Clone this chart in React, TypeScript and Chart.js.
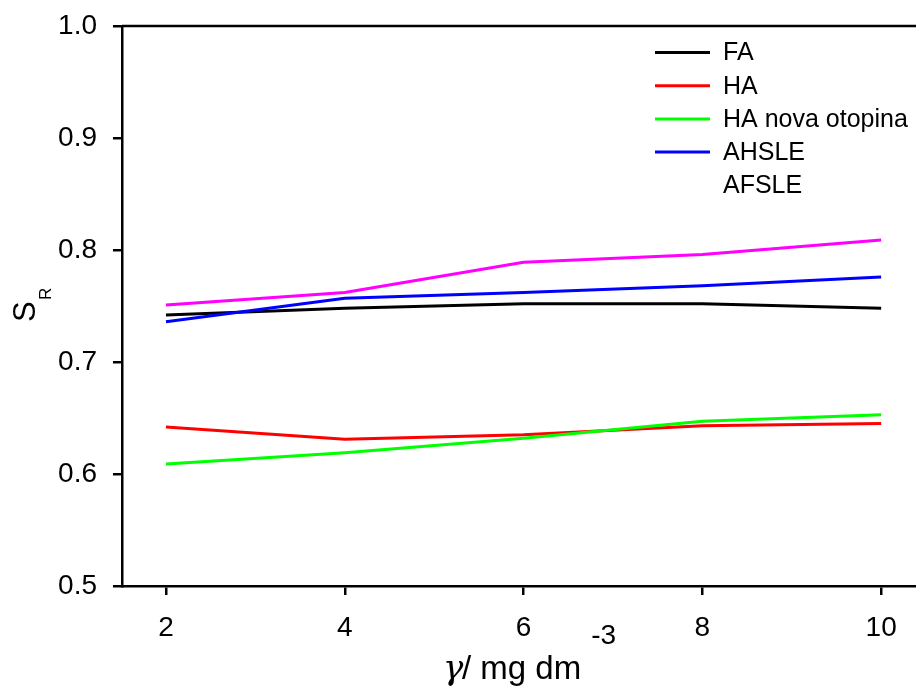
import React, { useEffect, useRef } from "react";
import { Chart, registerables } from "chart.js";

Chart.register(...registerables);

const xValues = [2, 4, 6, 8, 10];
const xTicks = [2, 4, 6, 8, 10];
const yTicks = [0.5, 0.6, 0.7, 0.8, 0.9, 1.0];

const seriesNames = ["FA", "HA", "HA nova otopina", "AHSLE", "AFSLE"];
const faValues = [0.742, 0.748, 0.752, 0.752, 0.748];
const haValues = [0.642, 0.631, 0.635, 0.643, 0.645];
const haNovaValues = [0.609, 0.619, 0.632, 0.647, 0.653];
const ahsleValues = [0.736, 0.757, 0.762, 0.768, 0.776];
const afsleValues = [0.751, 0.762, 0.789, 0.796, 0.809];
const seriesColors = ["#000000", "#ff0000", "#00ff00", "#0000ff", "#ff00ff"];
const legendShowLine = [true, true, true, true, false];

const SANS = "'Liberation Sans', Arial, sans-serif";

const overlayPlugin = {
  id: "overlay",
  afterDraw(chart: any) {
    const ctx = chart.ctx;
    const area = chart.chartArea;
    ctx.save();
    // top frame line
    ctx.strokeStyle = "#000";
    ctx.lineWidth = 2.5;
    ctx.beginPath();
    ctx.moveTo(area.left, area.top);
    ctx.lineTo(chart.width, area.top);
    ctx.stroke();

    // legend
    const lx0 = 655, lx1 = 710, tx = 723, ly0 = 52.5, lstep = 33.2;
    ctx.font = `25px ${SANS}`;
    ctx.textBaseline = "middle";
    ctx.textAlign = "left";
    seriesNames.forEach((name, i) => {
      const y = ly0 + i * lstep;
      if (legendShowLine[i]) {
        ctx.strokeStyle = seriesColors[i];
        ctx.lineWidth = 3;
        ctx.beginPath();
        ctx.moveTo(lx0, y);
        ctx.lineTo(lx1, y);
        ctx.stroke();
      }
      ctx.fillStyle = "#000";
      ctx.fillText(name, tx, y + 1);
    });

    // x title
    ctx.textBaseline = "alphabetic";
    ctx.fillStyle = "#000";
    ctx.font = `italic 34px 'DejaVu Serif', 'Liberation Serif', serif`;
    ctx.fillText("\u03b3", 443, 679);
    ctx.font = `33px ${SANS}`;
    ctx.fillText("/ mg dm", 462, 679);
    const w = ctx.measureText("/ mg dm").width;
    ctx.font = `28px ${SANS}`;
    ctx.fillText("-3", 462 + w + 10, 644);

    // y title
    ctx.save();
    ctx.translate(35, 322);
    ctx.rotate(-Math.PI / 2);
    ctx.font = `31px ${SANS}`;
    ctx.fillText("S", 0, 0);
    ctx.font = `17px ${SANS}`;
    ctx.fillText("R", 22, 16);
    ctx.restore();

    ctx.restore();
  },
};

export default function App() {
  const canvasRef = useRef<HTMLCanvasElement | null>(null);

  useEffect(() => {
    document.body.style.margin = "0";
    const canvas = canvasRef.current;
    if (!canvas) return;
    const mk = (label: string, data: number[], i: number) => ({
      label,
      data: xValues.map((x, k) => ({ x, y: data[k] })),
      borderColor: seriesColors[i],
      backgroundColor: seriesColors[i],
      borderWidth: 3,
      pointRadius: 0,
      tension: 0,
      fill: false,
      order: 5 - i,
    });
    const chart = new Chart(canvas, {
      type: "line",
      data: {
        datasets: [
          mk(seriesNames[0], faValues, 0),
          mk(seriesNames[1], haValues, 1),
          mk(seriesNames[2], haNovaValues, 2),
          mk(seriesNames[3], ahsleValues, 3),
          mk(seriesNames[4], afsleValues, 4),
        ],
      },
      options: {
        animation: false,
        responsive: false,
        maintainAspectRatio: false,
        layout: { padding: { top: 26, right: 0, left: 0, bottom: 0 } },
        plugins: { legend: { display: false }, tooltip: { enabled: false } },
        scales: {
          x: {
            type: "linear",
            min: 1.508,
            max: 10.39,
            afterBuildTicks: (scale: any) => {
              scale.ticks = xTicks.map((v) => ({ value: v }));
            },
            afterFit: (scale: any) => {
              scale.height = 109;
              scale.paddingLeft = 0;
              scale.paddingRight = 0;
            },
            ticks: {
              color: "#000",
              font: { family: SANS, size: 28 },
              padding: 16,
              maxRotation: 0,
              autoSkip: false,
              callback: (v: any) => String(v),
            },
            grid: { drawOnChartArea: false, drawTicks: true, tickLength: 9, color: "#000", lineWidth: 2.5 },
            border: { color: "#000", width: 2.5 },
          },
          y: {
            type: "linear",
            min: 0.5,
            max: 1.0,
            afterBuildTicks: (scale: any) => {
              scale.ticks = yTicks.map((v) => ({ value: v }));
            },
            afterFit: (scale: any) => {
              scale.width = 122;
              scale.paddingTop = 0;
              scale.paddingBottom = 0;
            },
            ticks: {
              color: "#000",
              font: { family: SANS, size: 28 },
              padding: 16,
              autoSkip: false,
              callback: (v: any) => Number(v).toFixed(1),
            },
            grid: { drawOnChartArea: false, drawTicks: true, tickLength: 9, color: "#000", lineWidth: 2.5 },
            border: { color: "#000", width: 2.5 },
          },
        },
      },
      plugins: [overlayPlugin],
    });
    return () => chart.destroy();
  }, []);

  return (
    <div style={{ width: 916, height: 695 }}>
      <canvas ref={canvasRef} width={916} height={695} style={{ display: "block", width: 916, height: 695 }} />
    </div>
  );
}
